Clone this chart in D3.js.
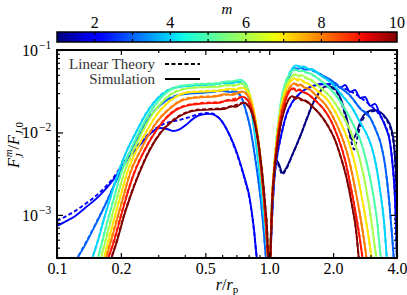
<!DOCTYPE html>
<html><head><meta charset="utf-8">
<script src="https://cdn.jsdelivr.net/npm/d3@7"></script>
<style>html,body{margin:0;padding:0;background:#fff;}svg{display:block;}</style>
</head><body><svg id="c" width="407" height="295"></svg>
<script>
// ---------------- DATA ----------------
const mValues = [1,2,3,4,5,6,7,8,9,10];
const xTickValues = [0.1,0.2,0.5,1,2,4];
const xTickLabels = ["0.1","0.2","0.5","1.0","2.0","4.0"];
const xMinorTicks = [0.3,0.4,0.6,0.7,0.8,0.9,3];
const yTickValues = [1e-3,1e-2,1e-1];
const yTickExp = ["\u22123","\u22122","\u22121"];
const cbarTickValues = [2,4,6,8,10];
const cbarMinorTicks = [2,3,4,5,6,7,8,9];
const legendLabels = ["Linear Theory","Simulation"];

// [r/rp, F] pairs.  m = 1 (outer only)
const sim1Out = [[1.011,0.00027],[1.022,0.00087],[1.044,0.00266],[1.079,0.00464],[1.115,0.00404],[1.152,0.00323],[1.203,0.00371],[1.284,0.00534],[1.401,0.00907],[1.510,0.0150],[1.612,0.0228],[1.718,0.0301],[1.854,0.0366],[2.021,0.0346],[2.181,0.0248],[2.327,0.0142],[2.456,0.00811],[2.565,0.00959],[2.708,0.0142],[2.890,0.0177],[3.118,0.0187],[3.328,0.0177],[3.552,0.0150],[3.75,0.0113],[3.874,0.00705],[3.960,0.00266],[4.003,0.00087]];
const lin1Out = [[1.011,0.00027],[1.022,0.0008],[1.044,0.0025],[1.079,0.0045],[1.115,0.0038],[1.152,0.0031],[1.203,0.0036],[1.284,0.0053],[1.401,0.0090],[1.510,0.0152],[1.612,0.0232],[1.718,0.0305],[1.854,0.0360],[2.021,0.0335],[2.181,0.0235],[2.327,0.0130],[2.456,0.0072],[2.510,0.0062],[2.565,0.0075],[2.708,0.0128],[2.890,0.0168],[3.118,0.0182],[3.328,0.0172],[3.552,0.0145],[3.75,0.0105],[3.874,0.0066],[3.960,0.0025],[4.003,0.0008]];
// m = 2
const sim2In = [[0.1,0.000736],[0.109,0.000823],[0.122,0.000972],[0.136,0.00122],[0.160,0.00175],[0.184,0.00266],[0.209,0.00427],[0.246,0.00705],[0.274,0.00959],[0.305,0.0113],[0.330,0.0110],[0.352,0.0104],[0.380,0.0110],[0.405,0.0123],[0.437,0.0146],[0.471,0.0163],[0.525,0.0168],[0.573,0.0154],[0.618,0.0120],[0.676,0.00746],[0.730,0.00427],[0.770,0.00266],[0.805,0.00170],[0.831,0.00100],[0.850,0.000622],[0.868,0.000356],[0.878,0.00027]];
const lin2In = [[0.1,0.000846],[0.109,0.000946],[0.122,0.00112],[0.136,0.00136],[0.160,0.00190],[0.184,0.00281],[0.209,0.00451],[0.246,0.00746],[0.274,0.00986],[0.305,0.0120],[0.340,0.0134],[0.380,0.0142],[0.423,0.0154],[0.471,0.0168],[0.525,0.0172],[0.573,0.0154],[0.618,0.0120],[0.676,0.00725],[0.730,0.00415],[0.770,0.00258],[0.805,0.00165],[0.831,0.000972],[0.850,0.000605],[0.868,0.000346],[0.878,0.00027]];
const sim2Out = [[1.011,0.00027],[1.033,0.001],[1.056,0.00266],[1.091,0.00534],[1.139,0.00933],[1.203,0.0163],[1.284,0.0234],[1.401,0.0301],[1.560,0.0356],[1.737,0.0387],[1.936,0.0387],[2.043,0.0398],[2.157,0.0346],[2.277,0.0376],[2.403,0.0310],[2.537,0.0327],[2.679,0.0262],[2.828,0.0269],[2.985,0.0210],[3.152,0.0222],[3.328,0.0163],[3.514,0.0120],[3.710,0.00746],[3.833,0.00351],[3.917,0.00152],[3.960,0.000658],[4.003,0.00027]];
const lin2Out = [[1.011,0.00027],[1.033,0.001],[1.056,0.0026],[1.091,0.0052],[1.139,0.0091],[1.203,0.0160],[1.284,0.0230],[1.401,0.0298],[1.560,0.0352],[1.737,0.0380],[1.936,0.0378],[2.157,0.0355],[2.403,0.0318],[2.679,0.0268],[2.985,0.0215],[3.257,0.0172],[3.514,0.0123],[3.710,0.0075],[3.833,0.0035],[3.917,0.0015],[3.960,0.00066],[4.003,0.00027]];
// m = 3
const lin3In = [[0.1216,0.00027],[0.1356,0.000445],[0.1511,0.000757],[0.1683,0.00132],[0.1877,0.00244],[0.2092,0.00439],[0.2332,0.00767],[0.2599,0.0127],[0.2894,0.0187],[0.3225,0.0241],[0.3594,0.0277],[0.4229,0.0301],[0.5252,0.0310],[0.6179,0.0318],[0.6912,0.0310],[0.7377,0.0269],[0.7789,0.0177],[0.8135,0.0113],[0.8404,0.00705],[0.8683,0.00404],[0.9069,0.00175],[0.9369,0.000757],[0.9679,0.00027]];
const sim3In = [[0.1216,0.00027],[0.1356,0.00043],[0.1511,0.00074],[0.1683,0.00130],[0.1877,0.00241],[0.2092,0.00435],[0.2332,0.00760],[0.2599,0.0126],[0.2894,0.0185],[0.3225,0.0238],[0.3594,0.0274],[0.4229,0.0296],[0.5252,0.0306],[0.5853,0.0322],[0.6546,0.0308],[0.6912,0.0316],[0.7377,0.0270],[0.7789,0.0178],[0.8135,0.0114],[0.8404,0.00700],[0.8683,0.00400],[0.9069,0.00172],[0.9369,0.00075],[0.9679,0.00027]];
const lin3Out = [[1.011,0.00027],[1.022,0.000757],[1.044,0.00201],[1.079,0.00614],[1.127,0.0163],[1.177,0.0310],[1.243,0.0484],[1.313,0.0589],[1.401,0.0605],[1.560,0.0572],[1.737,0.0512],[1.936,0.0433],[2.157,0.0356],[2.403,0.0277],[2.679,0.0198],[2.985,0.0150],[3.186,0.0107],[3.364,0.00705],[3.514,0.00404],[3.670,0.00152],[3.791,0.000572],[3.874,0.00027]];
const sim3Out = [[1.011,0.00027],[1.022,0.00074],[1.044,0.00198],[1.079,0.00605],[1.127,0.0161],[1.177,0.0306],[1.243,0.0478],[1.313,0.0600],[1.356,0.0580],[1.401,0.0615],[1.478,0.0575],[1.560,0.0590],[1.737,0.0505],[1.936,0.0440],[2.157,0.0350],[2.403,0.0282],[2.679,0.0195],[2.985,0.0152],[3.186,0.0105],[3.364,0.00710],[3.514,0.00400],[3.670,0.00150],[3.791,0.00056],[3.874,0.00027]];
// m = 4
const lin4In = [[0.1447,0.00027],[0.1561,0.000498],[0.1683,0.001],[0.1817,0.0019],[0.1939,0.00323],[0.2138,0.00614],[0.2357,0.0101],[0.2599,0.0163],[0.2894,0.0241],[0.3225,0.0310],[0.367,0.0356],[0.4465,0.0376],[0.5545,0.0387],[0.6546,0.0398],[0.7141,0.0409],[0.7539,0.0387],[0.7874,0.0301],[0.8224,0.0187],[0.8496,0.0107],[0.8778,0.00564],[0.9069,0.00266],[0.9369,0.00115],[0.9679,0.000498],[0.9892,0.00027]];
const sim4In = [[0.1447,0.00027],[0.1561,0.00049],[0.1683,0.00098],[0.1817,0.00187],[0.1939,0.00318],[0.2138,0.00605],[0.2357,0.0100],[0.2599,0.0161],[0.2894,0.0238],[0.3225,0.0306],[0.367,0.0352],[0.4465,0.0372],[0.5545,0.0382],[0.6197,0.0402],[0.6546,0.0392],[0.7141,0.0413],[0.7539,0.0390],[0.7874,0.0303],[0.8224,0.0188],[0.8496,0.0106],[0.8778,0.00560],[0.9069,0.00262],[0.9369,0.00112],[0.9679,0.00049],[0.9892,0.00027]];
const lin4Out = [[1.011,0.00027],[1.022,0.000823],[1.044,0.00231],[1.067,0.00491],[1.103,0.0113],[1.152,0.0248],[1.203,0.0409],[1.270,0.0572],[1.341,0.0640],[1.447,0.0622],[1.594,0.0572],[1.775,0.0484],[1.979,0.0387],[2.204,0.0285],[2.456,0.0198],[2.679,0.0134],[2.859,0.00986],[3.018,0.00705],[3.186,0.00404],[3.328,0.00201],[3.476,0.000823],[3.591,0.00027]];
const sim4Out = [[1.011,0.00027],[1.022,0.00080],[1.044,0.00226],[1.067,0.00485],[1.103,0.0112],[1.152,0.0245],[1.203,0.0405],[1.270,0.0570],[1.341,0.0650],[1.400,0.0615],[1.447,0.0632],[1.520,0.0595],[1.594,0.0580],[1.775,0.0478],[1.979,0.0392],[2.204,0.0280],[2.456,0.0200],[2.679,0.0132],[2.859,0.00990],[3.018,0.00700],[3.186,0.00400],[3.328,0.00198],[3.476,0.00081],[3.591,0.00027]];
// m = 5
const lin5In = [[0.1544,0.00027],[0.1647,0.000526],[0.1758,0.001],[0.1877,0.0018],[0.2003,0.00323],[0.2208,0.00597],[0.2435,0.0101],[0.2687,0.0163],[0.2989,0.0241],[0.3333,0.0318],[0.3795,0.0366],[0.4612,0.0387],[0.5728,0.0398],[0.6690,0.0421],[0.7298,0.0433],[0.7705,0.0398],[0.8047,0.0301],[0.8404,0.0177],[0.8683,0.0101],[0.8971,0.00491],[0.9268,0.00212],[0.9575,0.00087],[0.9892,0.00027]];
const sim5In = [[0.1544,0.00027],[0.1647,0.00051],[0.1758,0.00097],[0.1877,0.00177],[0.2003,0.00318],[0.2208,0.00590],[0.2435,0.0100],[0.2687,0.0161],[0.2989,0.0238],[0.3333,0.0314],[0.3795,0.0362],[0.4612,0.0383],[0.5728,0.0392],[0.6197,0.0412],[0.6690,0.0416],[0.7000,0.0425],[0.7298,0.0437],[0.7705,0.0400],[0.8047,0.0302],[0.8404,0.0176],[0.8683,0.0100],[0.8971,0.00486],[0.9268,0.00209],[0.9575,0.00085],[0.9892,0.00027]];
const lin5Out = [[1.011,0.00027],[1.022,0.00087],[1.044,0.00266],[1.067,0.0058],[1.103,0.0134],[1.139,0.0248],[1.190,0.0398],[1.257,0.0526],[1.327,0.0572],[1.432,0.0557],[1.560,0.0512],[1.737,0.0433],[1.936,0.0337],[2.157,0.0241],[2.353,0.0163],[2.537,0.0113],[2.708,0.00767],[2.859,0.00464],[3.051,0.00212],[3.221,0.00087],[3.364,0.000301],[3.401,0.00027]];
const sim5Out = [[1.011,0.00027],[1.022,0.00085],[1.044,0.00262],[1.067,0.0057],[1.103,0.0132],[1.139,0.0245],[1.190,0.0394],[1.257,0.0522],[1.327,0.0582],[1.380,0.0550],[1.432,0.0566],[1.500,0.0528],[1.560,0.0520],[1.737,0.0428],[1.936,0.0341],[2.157,0.0238],[2.353,0.0165],[2.537,0.0112],[2.708,0.00760],[2.859,0.00460],[3.051,0.00210],[3.221,0.00086],[3.364,0.00030],[3.401,0.00027]];
// m = 6
const lin6In = [[0.1595,0.00027],[0.1702,0.000526],[0.1817,0.001],[0.1939,0.0018],[0.2069,0.00323],[0.2281,0.00597],[0.2516,0.0101],[0.2772,0.0158],[0.3088,0.0228],[0.3441,0.0293],[0.3919,0.0337],[0.4713,0.0356],[0.5853,0.0366],[0.6837,0.0376],[0.7377,0.0387],[0.7789,0.0356],[0.8135,0.0277],[0.8496,0.0168],[0.8778,0.00959],[0.9069,0.00464],[0.9369,0.00201],[0.9679,0.000757],[0.9892,0.00027]];
const sim6In = [[0.1595,0.00027],[0.1702,0.00051],[0.1817,0.00097],[0.1939,0.00176],[0.2069,0.00318],[0.2281,0.00590],[0.2516,0.0100],[0.2772,0.0156],[0.3088,0.0225],[0.3441,0.0289],[0.3919,0.0333],[0.4713,0.0352],[0.5853,0.0360],[0.6366,0.0378],[0.6837,0.0370],[0.7377,0.0392],[0.7789,0.0358],[0.8135,0.0278],[0.8496,0.0167],[0.8778,0.00950],[0.9069,0.00460],[0.9369,0.00198],[0.9679,0.00074],[0.9892,0.00027]];
const lin6Out = [[1.011,0.00027],[1.022,0.00082],[1.044,0.00251],[1.067,0.00534],[1.103,0.0120],[1.139,0.0215],[1.190,0.0346],[1.257,0.0458],[1.327,0.0498],[1.432,0.0484],[1.560,0.0433],[1.737,0.0356],[1.936,0.0269],[2.157,0.0182],[2.353,0.0120],[2.510,0.00811],[2.679,0.00464],[2.859,0.00212],[3.018,0.00092],[3.152,0.000398],[3.221,0.00027]];
const sim6Out = [[1.011,0.00027],[1.022,0.00080],[1.044,0.00246],[1.067,0.00526],[1.103,0.0118],[1.139,0.0212],[1.190,0.0342],[1.257,0.0455],[1.327,0.0508],[1.380,0.0478],[1.432,0.0492],[1.500,0.0450],[1.560,0.0440],[1.737,0.0350],[1.936,0.0273],[2.157,0.0180],[2.353,0.0121],[2.510,0.00805],[2.679,0.00460],[2.859,0.00210],[3.018,0.00091],[3.152,0.00039],[3.221,0.00027]];
// m = 7
const lin7In = [[0.1647,0.00027],[0.1758,0.000526],[0.1877,0.001],[0.2003,0.0018],[0.2138,0.00323],[0.2357,0.00597],[0.2628,0.0101],[0.2894,0.0154],[0.3225,0.0215],[0.3594,0.0269],[0.4144,0.0310],[0.4975,0.0318],[0.598,0.0327],[0.6912,0.0337],[0.7458,0.0346],[0.7874,0.0318],[0.8224,0.0248],[0.8589,0.0150],[0.8874,0.00858],[0.9168,0.00404],[0.9471,0.00161],[0.9679,0.000757],[0.9892,0.00027]];
const sim7In = [[0.1647,0.00027],[0.1758,0.00051],[0.1877,0.00097],[0.2003,0.00176],[0.2138,0.00317],[0.2357,0.00590],[0.2628,0.0100],[0.2894,0.0152],[0.3225,0.0212],[0.3594,0.0265],[0.4144,0.0305],[0.4975,0.0313],[0.598,0.0322],[0.6450,0.0340],[0.6912,0.0330],[0.7458,0.0350],[0.7874,0.0320],[0.8224,0.0249],[0.8589,0.0149],[0.8874,0.00850],[0.9168,0.00400],[0.9471,0.00158],[0.9679,0.00074],[0.9892,0.00027]];
const lin7Out = [[1.011,0.00027],[1.022,0.000778],[1.033,0.00175],[1.056,0.00404],[1.091,0.00933],[1.127,0.0177],[1.177,0.0293],[1.243,0.0398],[1.313,0.0445],[1.401,0.0433],[1.527,0.0387],[1.700,0.0318],[1.894,0.0241],[2.088,0.0163],[2.228,0.0113],[2.353,0.00811],[2.510,0.00464],[2.679,0.00212],[2.828,0.001],[2.953,0.000498],[3.051,0.00027]];
const sim7Out = [[1.011,0.00027],[1.022,0.00076],[1.033,0.00172],[1.056,0.00398],[1.091,0.00922],[1.127,0.0175],[1.177,0.0290],[1.243,0.0395],[1.313,0.0455],[1.360,0.0425],[1.401,0.0440],[1.460,0.0405],[1.527,0.0392],[1.700,0.0313],[1.894,0.0245],[2.088,0.0161],[2.228,0.0114],[2.353,0.00805],[2.510,0.00460],[2.679,0.00210],[2.828,0.00099],[2.953,0.00049],[3.051,0.00027]];
// m = 8
const lin8In = [[0.1683,0.00027],[0.1797,0.000498],[0.1939,0.001],[0.2069,0.0018],[0.2208,0.00323],[0.2462,0.00597],[0.2742,0.0101],[0.3054,0.0150],[0.3404,0.0198],[0.3877,0.0248],[0.4564,0.0269],[0.5545,0.0277],[0.6690,0.0293],[0.7458,0.0310],[0.7874,0.0285],[0.8224,0.0222],[0.8589,0.0138],[0.8874,0.00811],[0.9168,0.00382],[0.9471,0.00152],[0.9679,0.000696],[0.9892,0.00027]];
const sim8In = [[0.1683,0.00027],[0.1797,0.00048],[0.1939,0.00097],[0.2069,0.00176],[0.2208,0.00316],[0.2462,0.00588],[0.2742,0.0100],[0.3054,0.0148],[0.3404,0.0195],[0.3877,0.0244],[0.4564,0.0265],[0.5545,0.0272],[0.6197,0.0290],[0.6690,0.0285],[0.7458,0.0314],[0.7874,0.0287],[0.8224,0.0223],[0.8589,0.0137],[0.8874,0.00805],[0.9168,0.00378],[0.9471,0.00150],[0.9679,0.00068],[0.9892,0.00027]];
const lin8Out = [[1.011,0.00027],[1.022,0.000736],[1.033,0.00161],[1.056,0.00371],[1.091,0.00858],[1.127,0.0158],[1.177,0.0255],[1.243,0.0346],[1.313,0.0387],[1.401,0.0376],[1.527,0.0337],[1.682,0.0277],[1.854,0.0210],[2.021,0.0146],[2.133,0.0107],[2.228,0.00811],[2.378,0.00464],[2.537,0.00212],[2.679,0.001],[2.797,0.000498],[2.890,0.00027]];
const sim8Out = [[1.011,0.00027],[1.022,0.00072],[1.033,0.00158],[1.056,0.00366],[1.091,0.00848],[1.127,0.0157],[1.177,0.0252],[1.243,0.0343],[1.313,0.0396],[1.360,0.0368],[1.401,0.0382],[1.460,0.0352],[1.527,0.0340],[1.682,0.0273],[1.854,0.0212],[2.021,0.0145],[2.133,0.0107],[2.228,0.00805],[2.378,0.00460],[2.537,0.00210],[2.679,0.00099],[2.797,0.00049],[2.890,0.00027]];
// m = 9
const lin9In = [[0.172,0.00027],[0.1857,0.000498],[0.2003,0.001],[0.2138,0.0018],[0.2306,0.00323],[0.2571,0.00597],[0.2894,0.0101],[0.3225,0.0146],[0.3594,0.0187],[0.4097,0.0215],[0.4816,0.0228],[0.5853,0.0234],[0.6837,0.0255],[0.7458,0.0269],[0.7874,0.0248],[0.8224,0.0198],[0.8589,0.0127],[0.8874,0.00746],[0.9168,0.00351],[0.9471,0.0014],[0.9679,0.000658],[0.9892,0.00027]];
const sim9In = [[0.172,0.00027],[0.1857,0.00048],[0.2003,0.00097],[0.2138,0.00175],[0.2306,0.00316],[0.2571,0.00588],[0.2894,0.0100],[0.3225,0.0144],[0.3594,0.0184],[0.4097,0.0211],[0.4816,0.0224],[0.5853,0.0229],[0.6366,0.0246],[0.6837,0.0243],[0.7458,0.0272],[0.7874,0.0250],[0.8224,0.0199],[0.8589,0.0126],[0.8874,0.00740],[0.9168,0.00347],[0.9471,0.00138],[0.9679,0.00065],[0.9892,0.00027]];
const lin9Out = [[1.011,0.00027],[1.022,0.000696],[1.033,0.00152],[1.056,0.00351],[1.091,0.00767],[1.127,0.0138],[1.177,0.0222],[1.229,0.0301],[1.298,0.0337],[1.386,0.0327],[1.510,0.0293],[1.664,0.0241],[1.814,0.0187],[1.957,0.0138],[2.043,0.0107],[2.133,0.00811],[2.277,0.00464],[2.429,0.00212],[2.565,0.001],[2.679,0.000498],[2.767,0.00027]];
const sim9Out = [[1.011,0.00027],[1.022,0.00068],[1.033,0.00149],[1.056,0.00346],[1.091,0.00758],[1.127,0.0137],[1.177,0.0220],[1.229,0.0299],[1.298,0.0345],[1.340,0.0318],[1.386,0.0332],[1.450,0.0305],[1.510,0.0296],[1.664,0.0238],[1.814,0.0189],[1.957,0.0137],[2.043,0.0107],[2.133,0.00805],[2.277,0.00460],[2.429,0.00210],[2.565,0.00099],[2.679,0.00049],[2.767,0.00027]];
// m = 10
const lin10In = [[0.1778,0.00027],[0.1918,0.000498],[0.2069,0.001],[0.2232,0.0018],[0.2435,0.00323],[0.2713,0.00597],[0.3088,0.0101],[0.3478,0.0138],[0.3919,0.0168],[0.4465,0.0187],[0.5252,0.0193],[0.6197,0.0198],[0.6988,0.0215],[0.7539,0.0228],[0.7960,0.0210],[0.8314,0.0168],[0.8683,0.0107],[0.8971,0.00649],[0.9268,0.00323],[0.9575,0.00132],[0.9785,0.000622],[0.9892,0.00027]];
const sim10In = [[0.1778,0.00027],[0.1918,0.00048],[0.2069,0.00097],[0.2232,0.00175],[0.2435,0.00316],[0.2713,0.00588],[0.3088,0.0100],[0.3478,0.0136],[0.3919,0.0165],[0.4465,0.0184],[0.5252,0.0189],[0.6197,0.0194],[0.6600,0.0208],[0.6988,0.0205],[0.7539,0.0231],[0.7960,0.0212],[0.8314,0.0169],[0.8683,0.0106],[0.8971,0.00643],[0.9268,0.00320],[0.9575,0.00130],[0.9785,0.00061],[0.9892,0.00027]];
const lin10Out = [[1.011,0.00027],[1.022,0.000658],[1.033,0.0014],[1.056,0.00323],[1.091,0.00667],[1.127,0.0117],[1.177,0.0187],[1.229,0.0248],[1.284,0.0269],[1.371,0.0262],[1.478,0.0241],[1.612,0.0204],[1.756,0.0158],[1.894,0.0120],[2.043,0.00811],[2.181,0.00491],[2.327,0.00266],[2.456,0.00132],[2.565,0.000658],[2.650,0.00027]];
const sim10Out = [[1.011,0.00027],[1.022,0.00064],[1.033,0.00137],[1.056,0.00318],[1.091,0.00660],[1.127,0.0116],[1.177,0.0185],[1.229,0.0246],[1.284,0.0276],[1.330,0.0255],[1.371,0.0266],[1.420,0.0246],[1.478,0.0244],[1.612,0.0201],[1.756,0.0160],[1.894,0.0119],[2.043,0.00805],[2.181,0.00486],[2.327,0.00263],[2.456,0.00130],[2.565,0.00065],[2.650,0.00027]];

const simInner  = [null, sim2In, sim3In, sim4In, sim5In, sim6In, sim7In, sim8In, sim9In, sim10In];
const linInner  = [null, lin2In, lin3In, lin4In, lin5In, lin6In, lin7In, lin8In, lin9In, lin10In];
const simOuter  = [sim1Out, sim2Out, sim3Out, sim4Out, sim5Out, sim6Out, sim7Out, sim8Out, sim9Out, sim10Out];
const linOuter  = [lin1Out, lin2Out, lin3Out, lin4Out, lin5Out, lin6Out, lin7Out, lin8Out, lin9Out, lin10Out];

// ---------------- DRAW ----------------
const svg = d3.select("#c");
const L = 57, R = 397, T = 50, B = 258;
const x = d3.scaleLog().domain([0.1, 4]).range([L, R]);
const y = d3.scaleLog().domain([3e-4, 0.1]).range([B, T]);

// matplotlib jet
const jr = d3.scaleLinear().domain([0,0.35,0.66,0.89,1]).range([0,0,1,1,0.5]).clamp(true);
const jg = d3.scaleLinear().domain([0,0.125,0.375,0.64,0.91,1]).range([0,0,1,1,0,0]).clamp(true);
const jb = d3.scaleLinear().domain([0,0.11,0.34,0.65,1]).range([0.5,1,1,0,0]).clamp(true);
const jet = t => d3.rgb(255*jr(t), 255*jg(t), 255*jb(t)).toString();
const cm = d3.scaleLinear().domain([1,10]).range([0,1]);
const color = m => jet(cm(m));

const serif = "'Liberation Serif','Times New Roman',serif";

// clip
svg.append("defs").append("clipPath").attr("id","clip")
  .append("rect").attr("x",L).attr("y",T).attr("width",R-L).attr("height",B-T);

const line = d3.line().x(d=>x(d[0])).y(d=>y(d[1])).curve(d3.curveMonotoneX);
const gLines = svg.append("g").attr("clip-path","url(#clip)");
mValues.forEach((m,i)=>{
  const c = color(m);
  [simInner[i], simOuter[i]].forEach(s=>{
    if(!s) return;
    gLines.append("path").attr("d",line(s)).attr("fill","none").attr("stroke",c)
      .attr("stroke-width",1.9).attr("stroke-linejoin","round");
  });
  [linInner[i], linOuter[i]].forEach(s=>{
    if(!s) return;
    gLines.append("path").attr("d",line(s)).attr("fill","none").attr("stroke",c)
      .attr("stroke-width",1.9).attr("stroke-dasharray","4,2.5");
  });
});

// axes ticks (inward)
function fmtAxis(g){ g.select(".domain").remove(); g.selectAll("line").attr("stroke","#000").attr("stroke-width",1.2); }
svg.append("g").attr("transform",`translate(0,${B})`)
  .call(d3.axisBottom(x).tickValues(xTickValues).tickSize(-5).tickPadding(5).tickFormat((d,i)=>xTickLabels[i]))
  .call(fmtAxis)
  .call(g=>g.selectAll("text").attr("font-family",serif).attr("font-size",16).attr("fill","#000"));
svg.append("g").attr("transform",`translate(0,${B})`)
  .call(d3.axisBottom(x).tickValues(xMinorTicks).tickSize(-3).tickFormat("")).call(fmtAxis);
svg.append("g").attr("transform",`translate(0,${T})`)
  .call(d3.axisTop(x).tickValues(xTickValues).tickSize(-5).tickFormat("")).call(fmtAxis);
svg.append("g").attr("transform",`translate(0,${T})`)
  .call(d3.axisTop(x).tickValues(xMinorTicks).tickSize(-3).tickFormat("")).call(fmtAxis);

const yMinor = [];
[1e-4,1e-3,1e-2].forEach(dec=>{ for(let k=2;k<=9;k++){ const v=k*dec; if(v>=3e-4 && v<0.1) yMinor.push(v);} });
svg.append("g").attr("transform",`translate(${L},0)`)
  .call(d3.axisLeft(y).tickValues(yTickValues).tickSize(-6).tickFormat("")).call(fmtAxis);
svg.append("g").attr("transform",`translate(${L},0)`)
  .call(d3.axisLeft(y).tickValues(yMinor).tickSize(-3).tickFormat("")).call(fmtAxis);
svg.append("g").attr("transform",`translate(${R},0)`)
  .call(d3.axisRight(y).tickValues(yTickValues).tickSize(-6).tickFormat("")).call(fmtAxis);
svg.append("g").attr("transform",`translate(${R},0)`)
  .call(d3.axisRight(y).tickValues(yMinor).tickSize(-3).tickFormat("")).call(fmtAxis);

// y tick labels 10^-n
yTickValues.forEach((v,i)=>{
  svg.append("text").attr("x",L-19).attr("y",y(v)+6).attr("text-anchor","end")
    .attr("font-family",serif).attr("font-size",16).attr("fill","#000").text("10");
  svg.append("text").attr("x",L-18).attr("y",y(v)-1).attr("text-anchor","start")
    .attr("font-family",serif).attr("font-size",11.5).attr("fill","#000").text(yTickExp[i]);
});

// frame
svg.append("rect").attr("x",L).attr("y",T).attr("width",R-L).attr("height",B-T)
  .attr("fill","none").attr("stroke","#000").attr("stroke-width",2);

// axis labels
const xl = svg.append("text").attr("x",(L+R)/2).attr("y",290).attr("text-anchor","middle")
  .attr("font-family",serif).attr("font-size",16).attr("fill","#000");
xl.append("tspan").attr("font-style","italic").text("r");
xl.append("tspan").text("/");
xl.append("tspan").attr("font-style","italic").text("r");
xl.append("tspan").attr("font-size",11).attr("dy",3).text("p");

const yl = svg.append("text").attr("transform",`translate(19,145) rotate(-90)`)
  .attr("text-anchor","middle").attr("font-family",serif).attr("font-size",16).attr("fill","#000");
yl.append("tspan").attr("font-style","italic").text("F");
yl.append("tspan").attr("font-style","italic").attr("font-size",11).attr("dx",1).attr("dy",-7).text("m");
yl.append("tspan").attr("font-style","italic").attr("font-size",11).attr("dx",-9).attr("dy",11).text("J");
yl.append("tspan").attr("dx",4).attr("dy",-4).text("/");
yl.append("tspan").attr("font-style","italic").text("F");
yl.append("tspan").attr("font-size",11).attr("dy",4).attr("font-style","italic").text("J");
yl.append("tspan").attr("font-size",11).text(",0");

// legend
const lg = svg.append("g");
[["4,2.5", 64, legendLabels[0]], [null, 79, legendLabels[1]]].forEach(([dash,yy,lab])=>{
  lg.append("text").attr("x",155).attr("y",yy+5).attr("text-anchor","end")
    .attr("font-family",serif).attr("font-size",15).attr("fill","#333").text(lab);
  const ln = lg.append("line").attr("x1",165).attr("x2",200).attr("y1",yy).attr("y2",yy)
    .attr("stroke","#000").attr("stroke-width",2);
  if(dash) ln.attr("stroke-dasharray",dash);
});

// colorbar
const cbY = 32, cbH = 10;
const cx = d3.scaleLinear().domain([1,10]).range([L,R]);
const grad = svg.select("defs").append("linearGradient").attr("id","jet")
  .attr("x1","0%").attr("x2","100%").attr("y1","0%").attr("y2","0%");
d3.range(0,1.0001,0.02).forEach(t=>grad.append("stop").attr("offset",(t*100)+"%").attr("stop-color",jet(t)));
svg.append("rect").attr("x",L).attr("y",cbY).attr("width",R-L).attr("height",cbH).attr("fill","url(#jet)");
cbarMinorTicks.forEach(v=>{
  svg.append("line").attr("x1",cx(v)).attr("x2",cx(v)).attr("y1",cbY).attr("y2",cbY+3).attr("stroke","#000").attr("stroke-width",1.2);
  svg.append("line").attr("x1",cx(v)).attr("x2",cx(v)).attr("y1",cbY+cbH-3).attr("y2",cbY+cbH).attr("stroke","#000").attr("stroke-width",1.2);
});
svg.append("rect").attr("x",L).attr("y",cbY).attr("width",R-L).attr("height",cbH)
  .attr("fill","none").attr("stroke","#000").attr("stroke-width",1.5);
cbarTickValues.forEach(v=>{
  svg.append("text").attr("x",cx(v)).attr("y",cbY-4).attr("text-anchor","middle")
    .attr("font-family",serif).attr("font-size",16).attr("fill","#000").text(v);
});
svg.append("text").attr("x",(L+R)/2).attr("y",14).attr("text-anchor","middle")
  .attr("font-family",serif).attr("font-style","italic").attr("font-size",15).attr("fill","#000").text("m");
</script></body></html>
